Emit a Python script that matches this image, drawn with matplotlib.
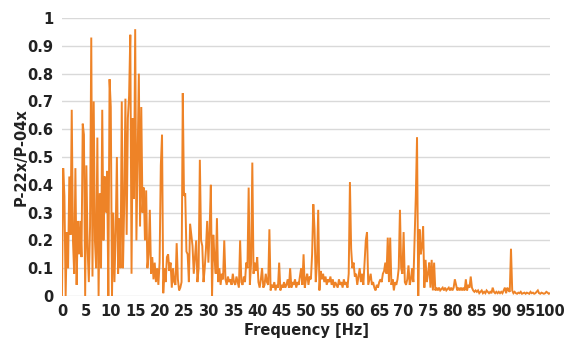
import numpy as np
import matplotlib
matplotlib.use("Agg")
import matplotlib.pyplot as plt

# frequency grid of the spectrum, 0.25 Hz steps
freq = np.arange(0, 100.01, 0.25)

# P-22x / P-04x ratio (one row = 5 Hz)
ratio = [
    0.00, 0.46, 0.36, 0.00, 0.23, 0.10, 0.43, 0.22, 0.67, 0.20, 0.08, 0.46, 0.04, 0.27, 0.15, 0.27, 0.14, 0.62, 0.58, 0.00,
    0.47, 0.17, 0.05, 0.25, 0.93, 0.07, 0.70, 0.20, 0.10, 0.57, 0.00, 0.37, 0.10, 0.67, 0.20, 0.43, 0.30, 0.45, 0.00, 0.78,
    0.68, 0.00, 0.30, 0.05, 0.23, 0.50, 0.08, 0.28, 0.10, 0.70, 0.10, 0.33, 0.71, 0.22, 0.64, 0.72, 0.94, 0.08, 0.64, 0.35,
    0.96, 0.20, 0.50, 0.80, 0.25, 0.68, 0.30, 0.39, 0.20, 0.38, 0.10, 0.15, 0.31, 0.08, 0.14, 0.06, 0.12, 0.05, 0.10, 0.04,
    0.12, 0.47, 0.58, 0.01, 0.10, 0.05, 0.14, 0.15, 0.09, 0.12, 0.03, 0.10, 0.05, 0.04, 0.19, 0.06, 0.02, 0.03, 0.05, 0.73,
    0.36, 0.37, 0.16, 0.15, 0.05, 0.26, 0.22, 0.18, 0.08, 0.14, 0.20, 0.05, 0.10, 0.49, 0.20, 0.18, 0.05, 0.10, 0.17, 0.27,
    0.12, 0.24, 0.40, 0.00, 0.22, 0.14, 0.08, 0.28, 0.05, 0.10, 0.04, 0.08, 0.06, 0.20, 0.06, 0.04, 0.07, 0.05, 0.06, 0.04,
    0.08, 0.05, 0.04, 0.07, 0.05, 0.03, 0.20, 0.05, 0.04, 0.07, 0.05, 0.12, 0.10, 0.39, 0.04, 0.12, 0.48, 0.08, 0.12, 0.09,
    0.14, 0.05, 0.03, 0.06, 0.10, 0.03, 0.04, 0.08, 0.05, 0.04, 0.24, 0.02, 0.04, 0.03, 0.05, 0.02, 0.04, 0.03, 0.12, 0.02,
    0.04, 0.03, 0.05, 0.03, 0.04, 0.06, 0.03, 0.10, 0.03, 0.05, 0.04, 0.06, 0.03, 0.05, 0.04, 0.07, 0.10, 0.04, 0.15, 0.03,
    0.06, 0.08, 0.04, 0.07, 0.06, 0.15, 0.33, 0.24, 0.05, 0.12, 0.31, 0.02, 0.09, 0.06, 0.08, 0.05, 0.07, 0.04, 0.06, 0.05,
    0.07, 0.04, 0.06, 0.03, 0.05, 0.04, 0.03, 0.06, 0.04, 0.05, 0.03, 0.06, 0.04, 0.05, 0.03, 0.08, 0.41, 0.17, 0.10, 0.12,
    0.07, 0.08, 0.04, 0.07, 0.10, 0.05, 0.08, 0.04, 0.12, 0.20, 0.23, 0.04, 0.06, 0.08, 0.04, 0.05, 0.03, 0.02, 0.04, 0.03,
    0.05, 0.06, 0.05, 0.08, 0.09, 0.12, 0.08, 0.21, 0.05, 0.21, 0.04, 0.06, 0.02, 0.05, 0.04, 0.06, 0.10, 0.31, 0.10, 0.08,
    0.23, 0.05, 0.04, 0.06, 0.11, 0.04, 0.06, 0.10, 0.05, 0.20, 0.36, 0.57, 0.00, 0.24, 0.15, 0.18, 0.25, 0.03, 0.13, 0.05,
    0.08, 0.12, 0.03, 0.13, 0.02, 0.12, 0.02, 0.03, 0.02, 0.03, 0.02, 0.025, 0.03, 0.02, 0.03, 0.02, 0.025, 0.03, 0.02, 0.03,
    0.02, 0.03, 0.06, 0.04, 0.02, 0.03, 0.02, 0.03, 0.02, 0.03, 0.02, 0.06, 0.02, 0.04, 0.03, 0.07, 0.03, 0.02, 0.015, 0.02,
    0.015, 0.02, 0.01, 0.015, 0.02, 0.01, 0.015, 0.01, 0.02, 0.015, 0.01, 0.015, 0.01, 0.03, 0.015, 0.01, 0.015, 0.01, 0.015, 0.01,
    0.015, 0.01, 0.02, 0.03, 0.01, 0.03, 0.02, 0.015, 0.17, 0.02, 0.01, 0.015, 0.01, 0.008, 0.012, 0.01, 0.015, 0.008, 0.01, 0.012,
    0.008, 0.012, 0.01, 0.008, 0.015, 0.01, 0.012, 0.008, 0.01, 0.015, 0.02, 0.01, 0.008, 0.012, 0.01, 0.008, 0.01, 0.015, 0.012, 0.008, 0.01,
]

xticks = list(range(0, 101, 5))
yticks = [0, 0.1, 0.2, 0.3, 0.4, 0.5, 0.6, 0.7, 0.8, 0.9, 1]
ytick_labels = ["0", "0.1", "0.2", "0.3", "0.4", "0.5", "0.6", "0.7", "0.8", "0.9", "1"]

plt.rcParams['font.family'] = ['Liberation Sans Narrow', 'DejaVu Sans']

fig = plt.figure(figsize=(5.65, 3.41), dpi=100)
ax = fig.add_axes([0.1097, 0.132, 0.8638, 0.815])

ax.plot(freq, ratio, color='#EE8327', linewidth=1.4, solid_joinstyle='miter')

ax.set_xlim(0, 100)
ax.set_ylim(0, 1)
ax.set_xticks(xticks)
ax.set_yticks(yticks)
ax.set_yticklabels(ytick_labels)
ax.tick_params(length=0, labelsize=10.5, colors='#222222', pad=6)
for lab in ax.get_xticklabels() + ax.get_yticklabels():
    lab.set_fontweight('bold')

ax.grid(axis='y', color='#D9D9D9', linewidth=1)
ax.set_axisbelow(True)
for s in ax.spines.values():
    s.set_visible(False)

ax.set_xlabel("Frequency [Hz]", fontsize=10.5, fontweight='bold', color='#222222', labelpad=3)
ax.set_ylabel("P-22x/P-04x", fontsize=10.5, fontweight='bold', color='#222222', labelpad=-1)

fig.savefig("out.png", dpi=100)
